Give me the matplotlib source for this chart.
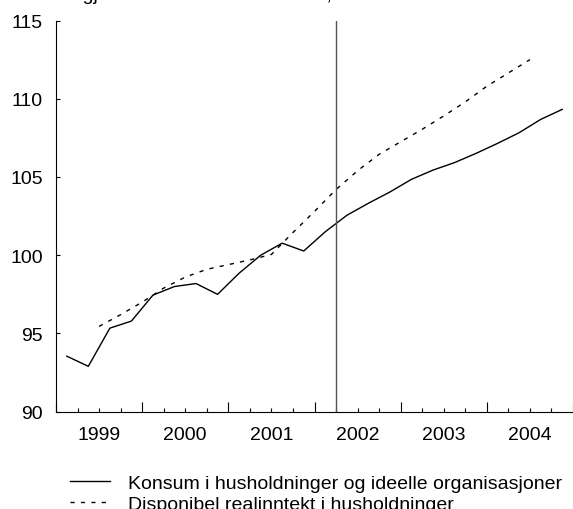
import matplotlib.pyplot as plt
import numpy as np

plt.rcParams["font.family"] = ["Liberation Sans", "DejaVu Sans"]
plt.rcParams["font.size"] = 14

# quarterly data, 1999Q1 - 2004Q4 (index)
konsum = [93.55, 92.9, 95.34, 95.79, 97.45, 98.0, 98.19, 97.5,
          98.85, 100.0, 100.77, 100.27, 101.5, 102.55, 103.32, 104.04,
          104.85, 105.44, 105.92, 106.51, 107.15, 107.83, 108.68, 109.32]
konsum_x = 1999.125 + 0.25 * np.arange(len(konsum))

# disponibel realinntekt, from mid 1999 to mid 2004
inntekt = [95.45, 96.2, 97.0, 97.9, 98.6, 99.1, 99.4, 99.7, 100.05, 101.45,
           102.8, 104.2, 105.4, 106.45, 107.25, 108.05, 108.9, 109.8, 110.8,
           111.65, 112.5]
inntekt_x = 1999.5 + 0.25 * np.arange(len(inntekt))

years = [1999, 2000, 2001, 2002, 2003, 2004]
yticks = [90, 95, 100, 105, 110, 115]
split_x = 2002.25

labels = ["Konsum i husholdninger og ideelle organisasjoner",
          "Disponibel realinntekt i husholdninger"]

fig = plt.figure(figsize=(5.73, 5.1), dpi=100)
ax = fig.add_axes([56 / 573, 0.1908, 1 - 56 / 573, 0.767])

ax.plot(konsum_x, konsum, color="black", lw=1.0, label=labels[0])
ax.plot(inntekt_x, inntekt, color="black", lw=1.0, dashes=(3, 4.5),
        label=labels[1])
ax.axvline(split_x, color="#555555", lw=1.0)

ax.set_xlim(1999.0, 1999.0 + 517 / 87.75)
ax.set_ylim(90, 115)
ax.set_yticks(yticks)

# year boundaries long ticks, quarters short ticks
ax.set_xticks(np.arange(1999, 2006))
ax.set_xticks(np.arange(1999, 2005.01, 0.25), minor=True)
ax.tick_params(axis="x", which="major", direction="in", length=7,
               width=0.8, labelbottom=False)
ax.tick_params(axis="x", which="minor", direction="in", length=3, width=0.8)
ax.tick_params(axis="y", direction="in", length=3, width=0.8, pad=9.6)

sec = ax.secondary_xaxis("bottom")
sec.set_xticks([y + 0.5 for y in years], labels=[str(y) for y in years])
sec.tick_params(length=0, pad=10)
sec.spines["bottom"].set_visible(False)

for s in ["top", "right"]:
    ax.spines[s].set_visible(False)
for s in ["left", "bottom"]:
    ax.spines[s].set_linewidth(0.8)

# title line cut off at the top of the picture
fig.text(27 / 573, 1.0, "Sesongjusterte tall. Volumindekser, 2001=100",
         va="baseline", ha="left")

fig.legend(loc="upper left", bbox_to_anchor=(69.5 / 573, 0.0675),
           frameon=False, borderpad=0, borderaxespad=0, handlelength=2.06,
           handletextpad=0.93, labelspacing=0.15)

fig.savefig("out.png", dpi=100)
